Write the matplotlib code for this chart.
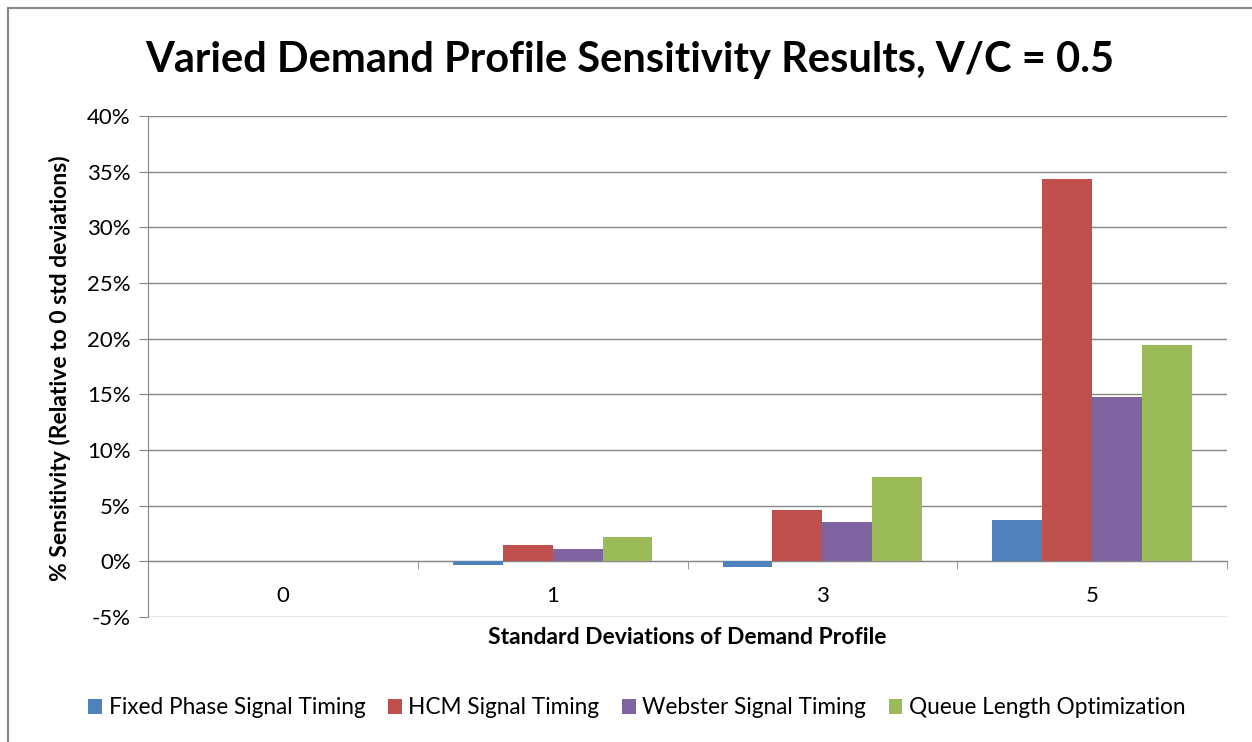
import numpy as np
import matplotlib
matplotlib.use('Agg')
import matplotlib.pyplot as plt
from matplotlib.patches import Rectangle
from matplotlib.ticker import FuncFormatter, FixedLocator

categories = ['0', '1', '3', '5']
series_names = ['Fixed Phase Signal Timing', 'HCM Signal Timing',
                'Webster Signal Timing', 'Queue Length Optimization']
fixed_phase = [0.0, -0.36, -0.47, 3.68]
hcm = [0.0, 1.50, 4.60, 34.35]
webster = [0.0, 1.08, 3.50, 14.80]
queue_length = [0.0, 2.18, 7.60, 19.46]
colors = ['#4F81BD', '#C0504D', '#8064A2', '#9BBB59']

plt.rcParams['font.family'] = ['Lato', 'DejaVu Sans']

fig = plt.figure(figsize=(12.52, 7.42), dpi=100)
ax = fig.add_axes([148 / 1252, 1 - 617 / 742, (1227 - 148) / 1252, (617 - 116) / 742])

x = np.arange(len(categories))
w = 0.185
all_series = [fixed_phase, hcm, webster, queue_length]
for i, (vals, name, c) in enumerate(zip(all_series, series_names, colors)):
    ax.bar(x + (i - 1.5) * w, vals, w, color=c, label=name, zorder=3)

ax.set_xlim(-0.5, len(categories) - 0.5)
ax.set_ylim(-5, 40)
ax.set_yticks(np.arange(-5, 41, 5))
ax.yaxis.set_major_formatter(FuncFormatter(lambda v, p: '%d%%' % v))
ax.grid(axis='y', color='#868686', lw=1.0, zorder=0)
ax.tick_params(axis='y', direction='out', length=6.5, color='#868686',
               labelsize=16, pad=6)

# category axis sits on the zero line, ticks between categories
ax.spines['bottom'].set_position(('data', 0))
ax.spines['bottom'].set_color('#868686')
ax.spines['left'].set_color('#868686')
ax.spines['top'].set_visible(False)
ax.spines['right'].set_visible(False)
ax.set_xticks(x)
ax.set_xticklabels(categories)
ax.xaxis.set_minor_locator(FixedLocator(np.arange(-0.5, len(categories), 1.0)))
ax.tick_params(axis='x', which='major', length=0, labelsize=16, pad=18)
ax.tick_params(axis='x', which='minor', direction='out', length=6, color='#868686')

fig.text(0.5 * (148 + 1227) / 1252, 1 - 637 / 742, 'Standard Deviations of Demand Profile',
         ha='center', va='center', fontsize=16.5, fontweight='bold')
fig.text(60 / 1252, 1 - 368 / 742, '% Sensitivity (Relative to 0 std deviations)',
         ha='center', va='center', rotation=90, fontsize=16.5, fontweight='bold')
fig.text(630 / 1252, 1 - 60 / 742, 'Varied Demand Profile Sensitivity Results, V/C = 0.5',
         ha='center', va='center', fontsize=30, fontweight='bold')

fig.legend(loc='center', bbox_to_anchor=(637 / 1252, 1 - 708 / 742), ncol=4,
           frameon=False, fontsize=16.3, handlelength=0.6, handleheight=0.6,
           handletextpad=0.3, columnspacing=1.0)

fig.patches.append(Rectangle((8 / 1252, -0.1), 1.2, 1.1 - 8 / 742,
                             transform=fig.transFigure, fill=False,
                             edgecolor='#868686', lw=1.5))

fig.savefig('out.png', dpi=100)
